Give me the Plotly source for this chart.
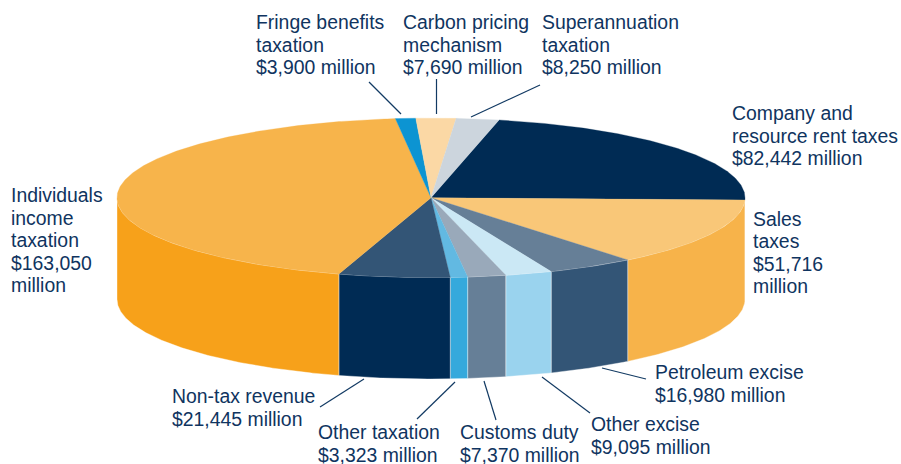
import numpy as np
import plotly.graph_objects as go

categories = ["Company and resource rent taxes", "Sales taxes", "Petroleum excise", "Other excise",
              "Customs duty", "Other taxation", "Non-tax revenue", "Individuals income taxation",
              "Fringe benefits taxation", "Carbon pricing mechanism", "Superannuation taxation"]
values = [82442, 51716, 16980, 9095, 7370, 3323, 21445, 163050, 3900, 7690, 8250]
top_colors = ["#002B54", "#F9C778", "#667F97", "#CBE8F5", "#99A9BA", "#62B9E2", "#335576",
              "#F7B44B", "#0C94D2", "#FBD8A5", "#CCD5DD"]
side_colors = ["#002B54", "#F7B34A", "#335576", "#9AD3EE", "#667F97", "#35A9DC", "#002B54",
               "#F7A11A", "#0C94D2", "#FBD8A5", "#CCD5DD"]
label_lines = [["Company and", "resource rent taxes", "$82,442 million"],
               ["Sales", "taxes", "$51,716", "million"],
               ["Petroleum excise", "$16,980 million"],
               ["Other excise", "$9,095 million"],
               ["Customs duty", "$7,370 million"],
               ["Other taxation", "$3,323 million"],
               ["Non-tax revenue", "$21,445 million"],
               ["Individuals", "income", "taxation", "$163,050", "million"],
               ["Fringe benefits", "taxation", "$3,900 million"],
               ["Carbon pricing", "mechanism", "$7,690 million"],
               ["Superannuation", "taxation", "$8,250 million"]]

# label anchors (left edge, centre of the first line) in page pixels
label_pos = [(732, 113), (753, 218.5), (655, 372), (591, 424), (460, 432), (318, 432),
             (172, 396), (11, 195), (256, 22), (403, 22), (542, 22)]
LINE_PITCH = 22.6
# leader lines in page pixels
leaders = [((369, 82), (401, 114)), ((436.5, 79), (436.5, 114)), ((540, 85), (471, 117)),
           ((320, 407), (364, 379)), ((417, 419), (455, 382)), ((496, 420), (484, 381)),
           ((590, 413), (542, 377)), ((646, 379), (602, 368))]

CX, CY, RX, RY, DEPTH = 431, 197.8, 314, 79.7, 101.5
ROT = -1.6
TEXT = "#0F3460"

fig = go.Figure()
total = sum(values)
angles = ROT + values[0] / total * 360 - np.cumsum([0] + values) / total * 360


def arc(a0, a1, dy=0):
    t = np.radians(np.linspace(a0, a1, max(int(abs(a1 - a0)) * 2, 2) + 1))
    return CX + RX * np.cos(t), CY - RY * np.sin(t) + dy


# front wall pieces (lower half of the ellipse only)
for i, c in enumerate(side_colors):
    a0, a1 = angles[i], angles[i + 1]
    s0 = min(a0, 0)
    s1 = max(a1, -180)
    if s1 >= s0:
        continue
    xt, yt = arc(s0, s1)
    xb, yb = arc(s1, s0, DEPTH)
    fig.add_trace(go.Scatter(x=np.r_[xt, xb, xt[0]], y=np.r_[yt, yb, yt[0]], mode="lines", fill="toself",
                             fillcolor=c, line=dict(color="rgba(255,255,255,0.55)", width=0.7),
                             hoverinfo="skip", showlegend=False))

# top face
for i, c in enumerate(top_colors):
    xt, yt = arc(angles[i], angles[i + 1])
    fig.add_trace(go.Scatter(x=np.r_[CX, xt, CX], y=np.r_[CY, yt, CY], mode="lines", fill="toself",
                             fillcolor=c, line=dict(color=c, width=0.3),
                             name=categories[i], hoverinfo="name", showlegend=False))

# leader lines
for (p, q) in leaders:
    fig.add_shape(type="line", x0=p[0], y0=p[1], x1=q[0], y1=q[1], xref="x", yref="y",
                  line=dict(color="#123A63", width=1.2))

for lines, (x, y) in zip(label_lines, label_pos):
    for k, t in enumerate(lines):
        fig.add_annotation(x=x, y=y + k * LINE_PITCH, xref="x", yref="y", text=t, showarrow=False,
                           xanchor="left", yanchor="middle", align="left", xshift=-2,
                           font=dict(family="Liberation Sans", size=19.4, color=TEXT))

fig.update_layout(width=901, height=464, margin=dict(l=0, r=0, t=0, b=0), autosize=False,
                  paper_bgcolor="white", plot_bgcolor="white", showlegend=False,
                  xaxis=dict(range=[0, 901], visible=False, fixedrange=True),
                  yaxis=dict(range=[464, 0], visible=False, fixedrange=True))
fig.write_html("out.html", config=dict(displayModeBar=False),
               post_script="document.body.style.margin='0';document.body.style.overflow='hidden';")
